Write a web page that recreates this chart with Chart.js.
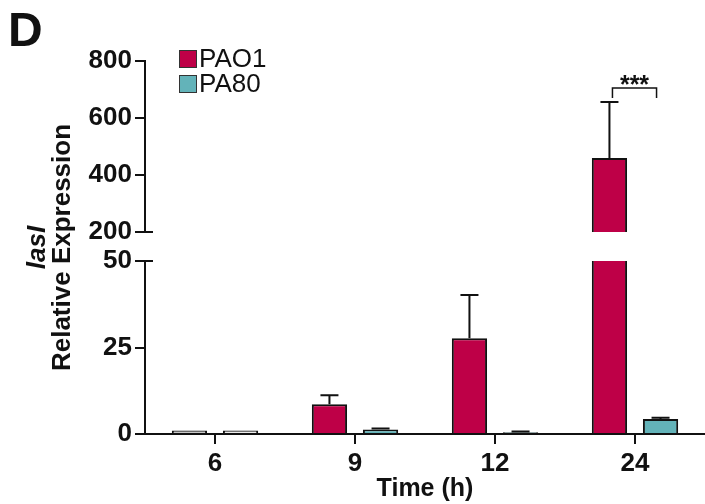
<!DOCTYPE html>
<html>
<head>
<meta charset="utf-8">
<script src="https://cdn.jsdelivr.net/npm/chart.js@4.4.1/dist/chart.umd.min.js"></script>
<style>
  html, body { margin: 0; padding: 0; background: #fff; }
  #wrap { width: 705px; height: 504px; }
</style>
</head>
<body>
<div id="wrap"><canvas id="chart" width="705" height="504"></canvas></div>
<script>
// values (mean and upper SD)
const timeLabels = ['6', '9', '12', '24'];
const seriesNames = ['PAO1', 'PA80'];
const pao1Mean = [1, 8.6, 27.7, 460];
const pao1Err = [0, 2.6, 12.5, 196];
const pa80Mean = [1, 1.3, 0.5, 4.3];
const pa80Err = [0, 0.3, 0.2, 0.4];
const upperTicks = [200, 400, 600, 800];
const lowerTicks = [0, 25, 50];
const sigStars = '***';
const sigLevel = 705;

const RED = '#be0047';
const TEAL = '#63b3b9';
const INK = '#111';
const FONT = '"Liberation Sans", Arial, Helvetica, sans-serif';

const pao1Fill = ['#c8c8c8', RED, RED, RED];
const pa80Fill = ['#ececec', TEAL, TEAL, TEAL];

function barSet(label, data, err, fill, axis) {
  return {
    label: label,
    data: data,
    err: err,
    yAxisID: axis,
    stack: label,
    backgroundColor: fill,
    borderColor: INK,
    borderWidth: 2,
    categoryPercentage: 0.73,
    barPercentage: 0.69
  };
}

// each bar + its error bar is clipped to the y segment it belongs to
const segmentClip = {
  id: 'segmentClip',
  beforeDatasetDraw(chart, args) {
    const y = chart.scales[args.meta.yAxisID];
    const a = chart.chartArea;
    const ctx = chart.ctx;
    ctx.save();
    ctx.beginPath();
    ctx.rect(a.left, y.top - 1, a.right - a.left, y.bottom - y.top + 3);
    ctx.clip();
  },
  afterDatasetDraw(chart, args) {
    const ctx = chart.ctx;
    const ds = chart.data.datasets[args.index];
    const y = chart.scales[args.meta.yAxisID];
    ctx.strokeStyle = INK;
    ctx.lineWidth = 2;
    args.meta.data.forEach((bar, i) => {
      if (!ds.err[i]) return;
      const top = y.getPixelForValue(ds.data[i] + ds.err[i]);
      ctx.beginPath();
      ctx.moveTo(bar.x, bar.y);
      ctx.lineTo(bar.x, top);
      ctx.moveTo(bar.x - 9, top);
      ctx.lineTo(bar.x + 9, top);
      ctx.stroke();
    });
    ctx.restore();
  }
};

const decorations = {
  id: 'decorations',
  afterDraw(chart) {
    const ctx = chart.ctx;
    const a = chart.chartArea;
    const yTop = chart.scales.yTop;
    const yLow = chart.scales.yLow;
    ctx.save();

    // axis break ticks poke into the plot
    ctx.strokeStyle = INK;
    ctx.lineWidth = 2;
    ctx.beginPath();
    ctx.moveTo(a.left, yTop.bottom);
    ctx.lineTo(a.left + 8, yTop.bottom);
    ctx.moveTo(a.left, yLow.top);
    ctx.lineTo(a.left + 8, yLow.top);
    ctx.stroke();

    // significance bracket at 24 h
    const i = timeLabels.length - 1;
    const x1 = chart.getDatasetMeta(2).data[i].x + 3;
    const x2 = chart.getDatasetMeta(3).data[i].x - 4;
    const yb = yTop.getPixelForValue(sigLevel);
    const yl = yTop.getPixelForValue(sigLevel - 35);
    ctx.lineWidth = 1.5;
    ctx.beginPath();
    ctx.moveTo(x1, yl);
    ctx.lineTo(x1, yb);
    ctx.lineTo(x2, yb);
    ctx.lineTo(x2, yl);
    ctx.stroke();
    ctx.fillStyle = INK;
    ctx.font = 'bold 25px ' + FONT;
    ctx.textAlign = 'center';
    ctx.textBaseline = 'alphabetic';
    ctx.fillText(sigStars, (x1 + x2) / 2, yb + 5);

    // legend
    const fills = [RED, TEAL];
    ctx.font = '26px ' + FONT;
    ctx.textAlign = 'left';
    ctx.textBaseline = 'middle';
    seriesNames.forEach((name, k) => {
      const y = 50 + k * 25;
      ctx.fillStyle = fills[k];
      ctx.fillRect(179, y, 18, 18);
      ctx.strokeStyle = '#333';
      ctx.lineWidth = 1;
      ctx.strokeRect(179.5, y + 0.5, 17, 17);
      ctx.fillStyle = INK;
      ctx.fillText(name, 199, y + 10);
    });

    // panel letter
    ctx.font = 'bold 48px ' + FONT;
    ctx.textBaseline = 'alphabetic';
    ctx.fillText('D', 8, 46);

    // y title spanning both segments
    const cy = (yTop.top + yLow.bottom) / 2;
    ctx.translate(0, cy);
    ctx.rotate(-Math.PI / 2);
    ctx.textAlign = 'center';
    ctx.textBaseline = 'middle';
    ctx.font = 'italic bold 26px ' + FONT;
    ctx.fillText('lasI', 0, 38);
    ctx.font = 'bold 26px ' + FONT;
    ctx.fillText('Relative Expression', 0, 63);
    ctx.restore();
  }
};

const tickFont = { family: FONT, size: 26, weight: 'bold' };
const axisGrid = { drawOnChartArea: false, drawTicks: true, tickLength: 10, color: INK, lineWidth: 2 };

function yScale(ticks, weight, order) {
  return {
    type: 'linear',
    position: 'left',
    stack: 'value',
    stackWeight: weight,
    weight: order,
    stacked: false,
    min: ticks[0],
    max: ticks[ticks.length - 1],
    afterBuildTicks: s => { s.ticks = ticks.map(v => ({ value: v })); },
    afterFit: s => { s.width = 145; },
    border: { color: INK, width: 2 },
    grid: axisGrid,
    ticks: { color: INK, font: tickFont, padding: 3, autoSkip: false }
  };
}

new Chart(document.getElementById('chart'), {
  type: 'bar',
  data: {
    labels: timeLabels,
    datasets: [
      barSet(seriesNames[0], pao1Mean, pao1Err, pao1Fill, 'yLow'),
      barSet(seriesNames[1], pa80Mean, pa80Err, pa80Fill, 'yLow'),
      barSet(seriesNames[0], pao1Mean, pao1Err, pao1Fill, 'yTop'),
      barSet(seriesNames[1], pa80Mean, pa80Err, pa80Fill, 'yTop')
    ]
  },
  options: {
    responsive: false,
    animation: false,
    layout: { padding: { top: 61, left: 0, right: 0, bottom: 0 } },
    plugins: {
      legend: { display: false },
      tooltip: { enabled: false }
    },
    scales: {
      x: {
        grid: Object.assign({ offset: false }, axisGrid),
        border: { color: INK, width: 2 },
        ticks: { color: INK, font: tickFont, padding: 4, autoSkip: false },
        title: { display: true, text: 'Time (h)', color: INK, font: { family: FONT, size: 25, weight: 'bold' }, padding: 0 },
        afterFit: s => { s.height = 70; }
      },
      yTop: yScale(upperTicks, 171, 3),
      yGap: {
        type: 'linear', position: 'left', stack: 'value', stackWeight: 29, weight: 2, display: false
      },
      yLow: yScale(lowerTicks, 173, 1)
    }
  },
  plugins: [segmentClip, decorations]
});
</script>
</body>
</html>
